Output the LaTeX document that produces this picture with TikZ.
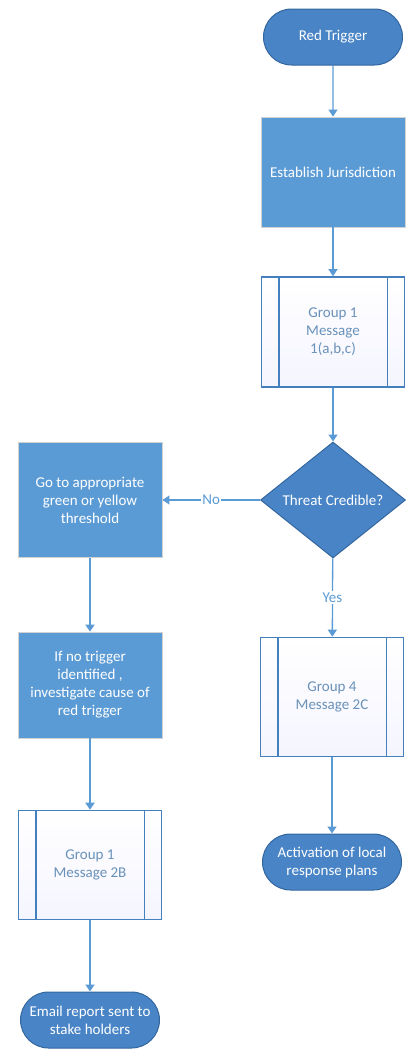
\documentclass[tikz,border=0pt]{standalone}
\usepackage{fontspec}
\setmainfont{Carlito}
\usepackage{tikz}
\usetikzlibrary{shapes.geometric,shapes.misc,arrows.meta}
\definecolor{boxblue}{RGB}{91,155,213}
\definecolor{termblue}{RGB}{72,132,198}
\definecolor{termline}{RGB}{52,102,158}
\definecolor{msgline}{RGB}{68,128,190}
\definecolor{msgtext}{RGB}{105,145,185}
\definecolor{linkblue}{RGB}{91,155,213}

\begin{document}
\begin{tikzpicture}[x=1pt, y=-1pt,
	every node/.style={font=\fontsize{15}{18}\selectfont, align=center},
	term/.style={rounded rectangle, draw=termline, line width=1pt, fill=termblue, text=white, minimum width=143pt, minimum height=56pt, inner sep=2pt},
	proc/.style={rectangle, draw=gray!35, line width=0.8pt, fill=boxblue, text=white, minimum width=144pt},
	msg/.style={rectangle, draw=msgline, line width=1.6pt, top color=white, bottom color=blue!4, text=msgtext, minimum width=143pt},
	decide/.style={diamond, draw=termline, line width=1pt, fill=termblue, text=white, aspect=1.25, inner sep=0pt, minimum width=145pt, minimum height=116pt},
	flow/.style={draw=linkblue, line width=1.3pt, -{Triangle[width=9pt,length=7pt]}},
	]
	\useasboundingbox (0,0) rectangle (407,1050);
	
	% right column
	\node[term] (red) at (333,37) {Red Trigger};
	\node[proc, minimum height=110pt] (juris) at (333,172) {Establish Jurisdiction};
	\node[msg, minimum height=110pt] (grp1) at (333,332) {Group 1\\Message\\1(a,b,c)};
	\node[decide] (threat) at (333,500) {Threat Credible?};
	\node[msg, minimum height=119pt] (grp4) at (332,697) {Group 4\\Message 2C};
	\node[term] (act) at (332,862) {Activation of local\\response plans};
	
	% left column
	\node[proc, minimum height=115pt] (goto) at (90,500) {Go to appropriate\\green or yellow\\threshold};
	\node[proc, minimum height=106pt] (ifno) at (90,685) {If no trigger\\identified ,\\investigate cause of\\red trigger};
	\node[msg, minimum height=109pt] (grp1b) at (90,865) {Group 1\\Message 2B};
	\node[term] (email) at (90,1020) {Email report sent to\\stake holders};
	
	% side bars of the message boxes
	\foreach \m in {grp1,grp4,grp1b}{
		\draw[msgline, line width=1.6pt] ([xshift=18pt]\m.north west) -- ([xshift=18pt]\m.south west);
		\draw[msgline, line width=1.6pt] ([xshift=-18pt]\m.north east) -- ([xshift=-18pt]\m.south east);
	}
	
	\draw[flow] (red) -- (juris);
	\draw[flow] (juris) -- (grp1);
	\draw[flow] (grp1) -- (threat);
	\draw[flow] (threat) -- node[fill=white, text=linkblue, inner sep=1pt] {No} (goto);
	\draw[flow] (threat) -- node[fill=white, text=linkblue, inner sep=2pt] {Yes} (grp4);
	\draw[flow] (grp4) -- (act);
	
	\draw[flow, line width=2.5pt] (goto) -- (ifno);
	\draw[flow, line width=2.5pt] (ifno) -- (grp1b);
	\draw[flow, line width=2.5pt] (grp1b) -- (email);
\end{tikzpicture}
\end{document}
